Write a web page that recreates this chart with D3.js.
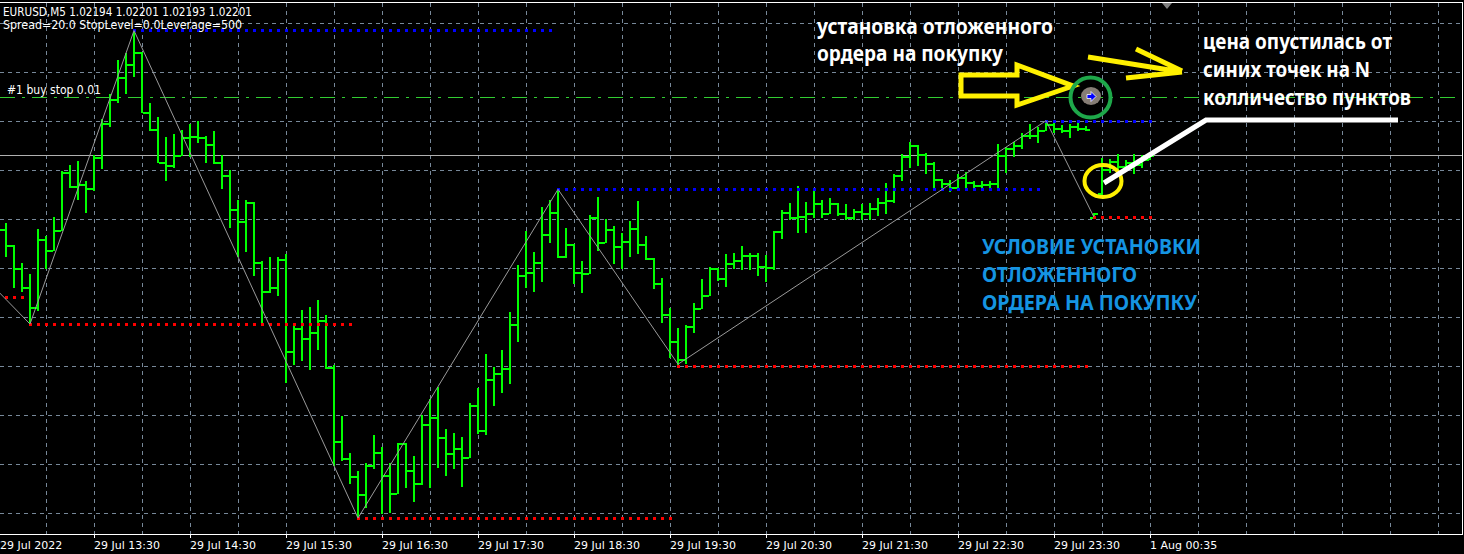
<!DOCTYPE html>
<html><head><meta charset="utf-8">
<script src="https://cdn.jsdelivr.net/npm/d3@7"></script>
<style>html,body{margin:0;padding:0;background:#000;overflow:hidden}svg{display:block}</style>
</head><body>
<svg id="c" width="1464" height="554"></svg>
<script>
// ---- data (bars start at index -1 = 29 Jul 12:30, M5) ----
const firstBar = -1;
const openP = [1.02030,1.02051,1.02018,1.01971,1.01933,1.01892,1.02030,1.02008,1.02049,1.02168,1.02139,1.02142,1.02135,1.02197,1.02267,1.02316,1.02362,1.02387,1.02413,1.02290,1.02256,1.02187,1.02182,1.02202,1.02239,1.02241,1.02238,1.02224,1.02187,1.02161,1.02092,1.02067,1.02107,1.01984,1.01925,1.01933,1.01989,1.01802,1.01848,1.01828,1.01841,1.01865,1.01770,1.01619,1.01583,1.01546,1.01510,1.01569,1.01595,1.01549,1.01512,1.01614,1.01559,1.01532,1.01653,1.01667,1.01627,1.01593,1.01605,1.01585,1.01692,1.01641,1.01744,1.01758,1.01768,1.01858,1.01957,1.01963,1.01983,1.02041,1.02086,1.01995,1.02020,1.01963,1.01961,1.02076,1.02025,1.02050,1.02016,1.02027,1.02054,1.02020,1.01991,1.01941,1.01878,1.01823,1.01785,1.01853,1.01889,1.01916,1.01971,1.01950,1.01982,1.01988,1.01998,1.01998,1.01975,1.01973,1.02046,1.02085,1.02076,1.02078,1.02083,1.02105,1.02084,1.02105,1.02084,1.02076,1.02088,1.02084,1.02093,1.02107,1.02110,1.02161,1.02200,1.02222,1.02205,1.02185,1.02153,1.02144,1.02137,1.02158,1.02146,1.02141,1.02143,1.02144,1.02202,1.02216,1.02222,1.02243,1.02243,1.02253,1.02265,1.02258,1.02253,1.02261,1.02258,1.02075,1.02125,1.02173,1.02190,1.02180,1.02188,1.02183,1.02194];
const highP = [1.02075,1.02064,1.02018,1.01981,1.01959,1.02052,1.02037,1.02075,1.02169,1.02181,1.02190,1.02149,1.02202,1.02275,1.02327,1.02396,1.02410,1.02456,1.02413,1.02309,1.02279,1.02239,1.02245,1.02253,1.02265,1.02271,1.02241,1.02251,1.02202,1.02171,1.02110,1.02110,1.02107,1.01986,1.01993,1.01993,1.01999,1.01853,1.01886,1.01891,1.01906,1.01875,1.01773,1.01669,1.01593,1.01558,1.01573,1.01631,1.01607,1.01573,1.01615,1.01615,1.01588,1.01671,1.01705,1.01729,1.01642,1.01634,1.01627,1.01695,1.01726,1.01796,1.01770,1.01804,1.01882,1.01978,1.02047,1.02004,1.02095,1.02110,1.02132,1.02054,1.02020,1.01986,1.02080,1.02116,1.02071,1.02057,1.02042,1.02068,1.02108,1.02037,1.01991,1.01950,1.01889,1.01848,1.01855,1.01899,1.01948,1.01973,1.01971,1.02000,1.02001,1.02016,1.02001,1.02003,1.01998,1.02046,1.02090,1.02105,1.02139,1.02107,1.02129,1.02110,1.02115,1.02105,1.02103,1.02091,1.02103,1.02105,1.02114,1.02144,1.02163,1.02205,1.02229,1.02222,1.02207,1.02188,1.02154,1.02152,1.02163,1.02168,1.02148,1.02148,1.02149,1.02224,1.02219,1.02229,1.02246,1.02265,1.02260,1.02272,1.02267,1.02263,1.02265,1.02267,1.02261,1.02084,1.02195,1.02193,1.02205,1.02192,1.02205,1.02202,1.02201];
const lowP = [1.02010,1.01996,1.01933,1.01925,1.01857,1.01886,1.01971,1.02008,1.02049,1.02136,1.02112,1.02086,1.02131,1.02176,1.02262,1.02311,1.02329,1.02363,1.02290,1.02253,1.02187,1.02152,1.02178,1.02202,1.02199,1.02229,1.02187,1.02185,1.02134,1.02056,1.01995,1.02007,1.01957,1.01858,1.01922,1.01916,1.01739,1.01775,1.01784,1.01765,1.01807,1.01767,1.01569,1.01580,1.01533,1.01461,1.01484,1.01563,1.01472,1.01474,1.01512,1.01524,1.01495,1.01530,1.01525,1.01565,1.01548,1.01563,1.01527,1.01585,1.01635,1.01632,1.01692,1.01719,1.01737,1.01823,1.01933,1.01925,1.01944,1.02025,1.01993,1.01993,1.01940,1.01923,1.01961,1.02008,1.02025,1.01981,1.01971,1.01995,1.02003,1.01989,1.01930,1.01862,1.01790,1.01775,1.01778,1.01841,1.01889,1.01916,1.01947,1.01935,1.01971,1.01969,1.01969,1.01957,1.01944,1.01969,1.02032,1.02071,1.02044,1.02044,1.02076,1.02076,1.02084,1.02080,1.02071,1.02071,1.02071,1.02071,1.02080,1.02083,1.02107,1.02151,1.02178,1.02182,1.02165,1.02134,1.02131,1.02129,1.02134,1.02134,1.02134,1.02134,1.02137,1.02136,1.02168,1.02199,1.02216,1.02236,1.02229,1.02253,1.02248,1.02248,1.02239,1.02253,1.02253,1.02075,1.02117,1.02168,1.02171,1.02175,1.02165,1.02178,1.02193];
const closeP = [1.02051,1.02018,1.01971,1.01933,1.01892,1.02030,1.02008,1.02049,1.02168,1.02139,1.02142,1.02135,1.02197,1.02267,1.02316,1.02362,1.02387,1.02413,1.02290,1.02256,1.02187,1.02182,1.02202,1.02239,1.02241,1.02238,1.02224,1.02187,1.02161,1.02092,1.02067,1.02107,1.01984,1.01925,1.01933,1.01989,1.01802,1.01848,1.01828,1.01841,1.01865,1.01770,1.01619,1.01583,1.01546,1.01510,1.01569,1.01595,1.01549,1.01512,1.01614,1.01559,1.01532,1.01653,1.01667,1.01627,1.01593,1.01605,1.01585,1.01692,1.01641,1.01744,1.01758,1.01768,1.01858,1.01957,1.01963,1.01983,1.02041,1.02086,1.01995,1.02020,1.01963,1.01961,1.02076,1.02025,1.02050,1.02016,1.02027,1.02054,1.02020,1.01991,1.01941,1.01878,1.01823,1.01785,1.01853,1.01889,1.01916,1.01971,1.01950,1.01982,1.01988,1.01998,1.01998,1.01975,1.01973,1.02046,1.02085,1.02076,1.02078,1.02083,1.02105,1.02084,1.02105,1.02084,1.02076,1.02088,1.02084,1.02093,1.02107,1.02110,1.02161,1.02200,1.02222,1.02205,1.02185,1.02153,1.02144,1.02137,1.02158,1.02146,1.02141,1.02143,1.02144,1.02202,1.02216,1.02222,1.02243,1.02243,1.02253,1.02265,1.02258,1.02253,1.02261,1.02258,1.02256,1.02084,1.02173,1.02190,1.02180,1.02188,1.02183,1.02194,1.02201];

// ZigZag turning points (bar index, price)
const zzBars   = [-1, 3, 16, 44, 69, 84, 130, 136];
const zzPrices = [1.01924, 1.01857, 1.02456, 1.01461, 1.02132, 1.01775, 1.02272, 1.02075];
// level dots (high = blue, low = red)
const hiFrom = [16, 69, 130], hiTo = [68, 129, 143], hiPrice = [1.02457, 1.02132, 1.02271];
const loFrom = [-1, 3, 44, 84, 136], loTo = [2, 43, 83, 135, 143], loPrice = [1.01912, 1.01857, 1.01461, 1.01772, 1.02075];

const bidPrice = 1.02201;
const orderPrice = 1.02320;
const gridPrices = [1.0147,1.0157,1.0167,1.0177,1.0187,1.0197,1.0207,1.0217,1.0227,1.0237,1.0247];
const tickBars = [-1, 11, 23, 35, 47, 59, 71, 83, 95, 107, 119, 131, 143];
const tickLabels = ["29 Jul 2022","29 Jul 13:30","29 Jul 14:30","29 Jul 15:30","29 Jul 16:30","29 Jul 17:30","29 Jul 18:30","29 Jul 19:30","29 Jul 20:30","29 Jul 21:30","29 Jul 22:30","29 Jul 23:30","1 Aug 00:35"];

// ---- drawing ----
const svg = d3.select("#c");
const W = 1464, H = 554, RIGHT = 1462, AXY = 534;
svg.append("rect").attr("width", W).attr("height", H).attr("fill", "#000");

const x = d3.scaleLinear().domain([0, 1]).range([6, 14]);
const y = d3.scaleLinear().domain([1.0147, 1.0247]).range([513.69, 23.69]);
const cy = v => Math.floor(y(v)) + 0.5;

const GRID = "#778899";
const g = svg.append("g").attr("shape-rendering", "crispEdges");
const vIdx = d3.range(5, 190, 6).filter(i => x(i) < RIGHT);
g.selectAll(".vg").data(vIdx).join("line")
  .attr("x1", d => x(d) + 0.5).attr("x2", d => x(d) + 0.5)
  .attr("y1", 3).attr("y2", AXY)
  .attr("stroke", GRID).attr("stroke-dasharray", "4,4");
g.selectAll(".hg").data(gridPrices).join("line")
  .attr("x1", 0).attr("x2", RIGHT)
  .attr("y1", d => cy(d)).attr("y2", d => cy(d))
  .attr("stroke", GRID).attr("stroke-dasharray", "4,4");

g.append("line").attr("x1", 0).attr("x2", RIGHT).attr("y1", cy(bidPrice)).attr("y2", cy(bidPrice))
  .attr("stroke", "#b0b0b0");
g.append("line").attr("x1", 0).attr("x2", RIGHT).attr("y1", cy(orderPrice)).attr("y2", cy(orderPrice))
  .attr("stroke", "#32cd32").attr("stroke-dasharray", "15,7,3,7");

// bars
const bars = openP.map((o, k) => ({ i: k + firstBar, o, h: highP[k], l: lowP[k], c: closeP[k] }));
const bg = svg.append("g").attr("shape-rendering", "crispEdges").attr("fill", "#00ff00");
bars.forEach(b => {
  const xc = x(b.i);
  const yt = Math.round(y(b.h)), yb = Math.round(y(b.l));
  bg.append("rect").attr("x", xc - 1).attr("y", yt).attr("width", 2).attr("height", Math.max(1, yb - yt + 1));
  bg.append("rect").attr("x", xc - 4).attr("y", Math.round(y(b.o))).attr("width", 3).attr("height", 1.5);
  bg.append("rect").attr("x", xc + 1).attr("y", Math.round(y(b.c))).attr("width", 3).attr("height", 1.5);
});

// level dots
const dots = svg.append("g").attr("shape-rendering", "crispEdges");
hiFrom.forEach((f, k) => {
  d3.range(f, hiTo[k] + 1).forEach(i => dots.append("rect").attr("x", x(i) - 1).attr("y", Math.round(y(hiPrice[k])) - 1)
    .attr("width", 3).attr("height", 3).attr("fill", "#0000ff"));
});
loFrom.forEach((f, k) => {
  d3.range(f, loTo[k] + 1).forEach(i => dots.append("rect").attr("x", x(i) - 1).attr("y", Math.round(y(loPrice[k])) - 1)
    .attr("width", 3).attr("height", 3).attr("fill", "#ff0000"));
});

// zigzag
svg.append("path")
  .attr("d", d3.line().x(d => x(d)).y((d, k) => y(zzPrices[k]))(zzBars))
  .attr("fill", "none").attr("stroke", "#9a9a9a").attr("stroke-width", 1);

// frame and axis
const fr = svg.append("g").attr("shape-rendering", "crispEdges");
fr.append("line").attr("x1", 0).attr("x2", RIGHT + 1).attr("y1", 2.5).attr("y2", 2.5).attr("stroke", "#fff");
fr.append("line").attr("x1", RIGHT + 0.5).attr("x2", RIGHT + 0.5).attr("y1", 2).attr("y2", AXY + 1).attr("stroke", "#fff");
fr.append("line").attr("x1", 0).attr("x2", RIGHT + 1).attr("y1", AXY + 0.5).attr("y2", AXY + 0.5).attr("stroke", "#fff");
fr.selectAll(".tk").data(tickBars).join("line")
  .attr("x1", d => x(d) + 0.5).attr("x2", d => x(d) + 0.5).attr("y1", AXY).attr("y2", AXY + 4).attr("stroke", "#fff");
svg.selectAll(".tl").data(tickBars).join("text")
  .attr("x", d => Math.max(0, x(d))).attr("y", 549).text((d, k) => tickLabels[k])
  .attr("fill", "#fff").attr("font-family", "DejaVu Sans").attr("font-size", "11px");

// chart shift marker
svg.append("path").attr("d", "M1162,3 L1172,3 L1167,9 Z").attr("fill", "#808080");

// header texts
const T = (s, tx, ty, len) => svg.append("text").attr("x", tx).attr("y", ty).text(s)
  .attr("fill", "#fff").attr("font-family", "DejaVu Sans").attr("font-size", "12px")
  .attr("textLength", len).attr("lengthAdjust", "spacingAndGlyphs");
T("EURUSD,M5  1.02194 1.02201 1.02193 1.02201", 3, 16, 249);
T("Spread=20.0  StopLevel=0.0Leverage=500", 3, 29, 239);
T("#1 buy stop 0.01", 7, 94, 94);

// ---- hand-drawn annotations ----
const YEL = "#fff000";
const an = svg.append("g");
const A = (s, tx, ty, len, col) => an.append("text").attr("x", tx).attr("y", ty).text(s)
  .attr("fill", col).attr("font-family", "Noto Sans").attr("font-weight", "bold").attr("font-size", "21px")
  .attr("textLength", len).attr("lengthAdjust", "spacingAndGlyphs");
A("установка отложенного", 817, 33.5, 236, "#fff");
A("ордера на покупку", 817, 61, 186, "#fff");
A("цена опустилась от", 1203, 49, 189, "#fff");
A("синих точек на N", 1203, 77, 167, "#fff");
A("колличество пунктов", 1203, 105, 208, "#fff");
const BLU = "#1594e2";
A("УСЛОВИЕ УСТАНОВКИ", 982, 254, 219, BLU);
A("ОТЛОЖЕННОГО", 982, 282, 155, BLU);
A("ОРДЕРА НА ПОКУПКУ", 982, 310, 215, BLU);

an.append("path").attr("d", "M961,75 L1017,75 L1017,65 L1073,86 L1017,105 L1017,96 L961,96 Z")
  .attr("fill", "none").attr("stroke", YEL).attr("stroke-width", 5);
an.append("path").attr("d", "M1088,57 L1182,72 M1136,49 L1182,71 M1126,78 L1182,72")
  .attr("fill", "none").attr("stroke", YEL).attr("stroke-width", 5);
an.append("circle").attr("cx", 1090.5).attr("cy", 97.5).attr("r", 20).attr("fill", "none")
  .attr("stroke", "#1ea84a").attr("stroke-width", 4);
an.append("ellipse").attr("cx", 1091).attr("cy", 96).attr("rx", 10).attr("ry", 9).attr("fill", "#867d75");
an.append("path").attr("d", "M1087,94.5 L1091,94.5 L1091,91.5 L1096,96.5 L1091,101.5 L1091,98.5 L1087,98.5 Z")
  .attr("fill", "#0000ff").attr("stroke", "#fff").attr("stroke-width", 0.8);
an.append("ellipse").attr("cx", 1103).attr("cy", 181).attr("rx", 18.5).attr("ry", 16).attr("fill", "none")
  .attr("stroke", YEL).attr("stroke-width", 4);
an.append("path").attr("d", "M1104,183 L1206,120 L1398,120").attr("fill", "none")
  .attr("stroke", "#fff").attr("stroke-width", 5);
</script>
</body></html>
